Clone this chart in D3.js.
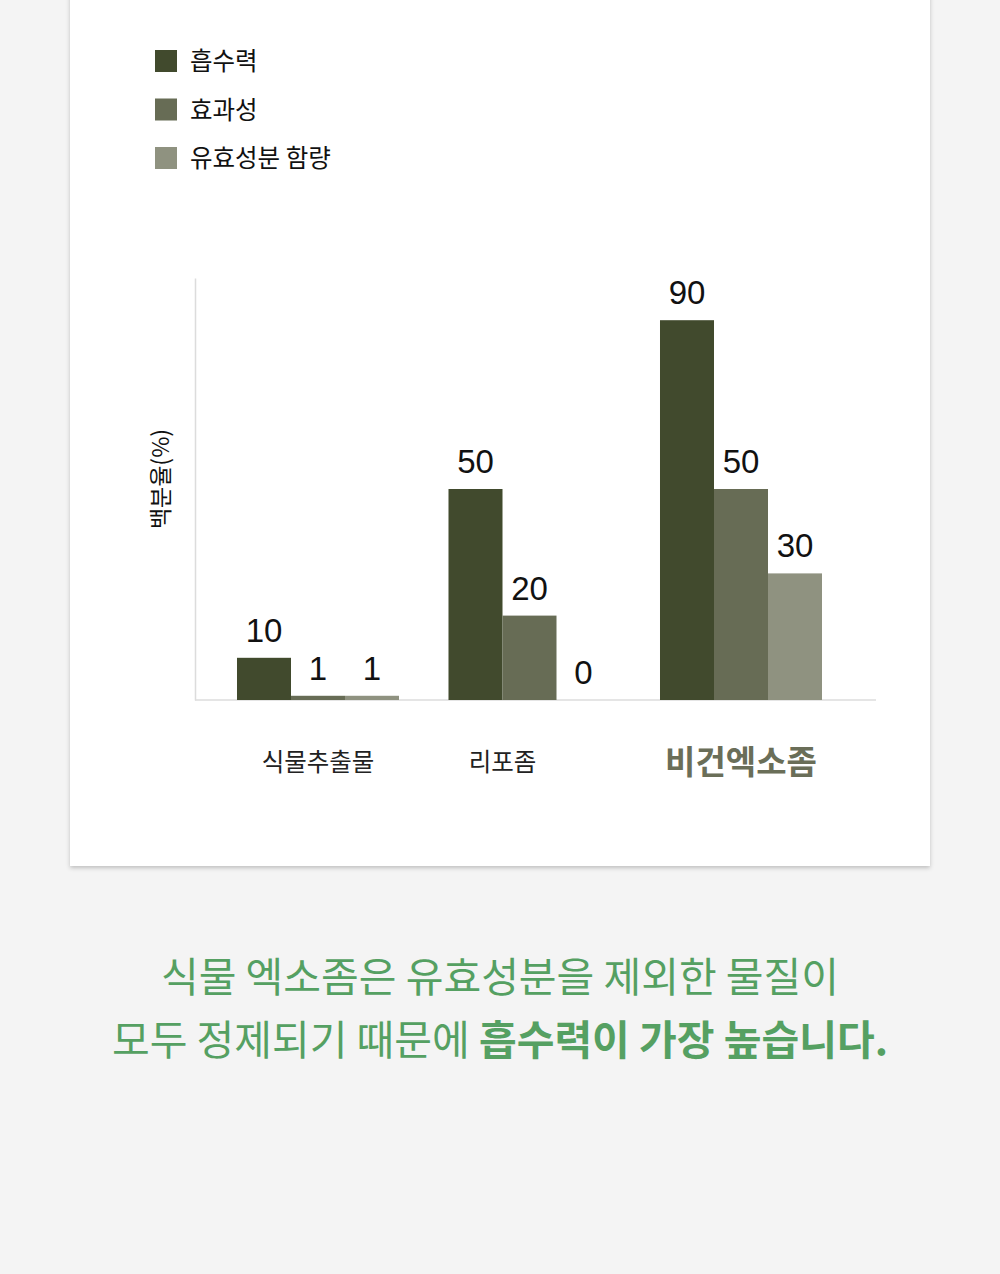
<!DOCTYPE html>
<html>
<head>
<meta charset="utf-8">
<script src="https://cdn.jsdelivr.net/npm/d3@7.9.0/dist/d3.min.js"></script>
<style>
  html, body { margin: 0; padding: 0; background: #f4f4f4; }
  svg { display: block; }
</style>
</head>
<body>
<svg id="chart" width="1000" height="1274"></svg>
<script>
// data
const categories = ['식물추출물', '리포좀', '비건엑소좀'];
const seriesNames = ['흡수력', '효과성', '유효성분 함량'];
const absorption = [10, 50, 90];
const efficacy = [1, 20, 50];
const activeContent = [1, 0, 30];
const yAxisTitle = '백분율(%)';
const captionLine1 = '식물 엑소좀은 유효성분을 제외한 물질이';
const captionLine2 = ['모두 정제되기 때문에 ', '흡수력이 가장 높습니다.'];

const seriesValues = [absorption, efficacy, activeContent];
const colors = ['#414a2d', '#676c55', '#8f9280'];
const korean = "'Noto Sans CJK KR', 'Noto Sans', sans-serif";
const latin = "'Liberation Sans', Arial, sans-serif";

const rows = categories.map((c, i) => ({
  category: c,
  values: seriesNames.map((s, j) => ({ series: s, value: seriesValues[j][i], color: colors[j] }))
}));

const svg = d3.select('#chart');

/*card*/
const defs = svg.append('defs');
const shadow = defs.append('filter').attr('id', 'shadow')
  .attr('x', '-5%').attr('y', '-5%').attr('width', '110%').attr('height', '110%');
shadow.append('feDropShadow')
  .attr('dx', 0).attr('dy', 2).attr('stdDeviation', 2)
  .attr('flood-color', '#000').attr('flood-opacity', 0.22);

svg.append('rect')
  .attr('x', 70).attr('y', -10).attr('width', 860).attr('height', 876)
  .attr('fill', '#fff')
  .attr('filter', 'url(#shadow)');

/*scales*/
const x0 = d3.scaleBand()
  .domain(categories)
  .range([212.25, 846.75])
  .paddingInner(0.234)
  .paddingOuter(0.117);

const x1 = d3.scaleBand()
  .domain(seriesNames)
  .range([0, x0.bandwidth()]);

const y = d3.scaleLinear()
  .domain([0, 100])
  .range([700, 278]);

/*axes*/
const yAxis = svg.append('g')
  .attr('transform', 'translate(195,0)')
  .call(d3.axisLeft(y).ticks(0).tickSizeOuter(0));
yAxis.select('.domain').attr('stroke', '#dcdcdc').attr('stroke-width', 1.5);

svg.append('line')
  .attr('x1', 195).attr('x2', 876)
  .attr('y1', y(0)).attr('y2', y(0))
  .attr('stroke', '#dcdcdc').attr('stroke-width', 1.5);

svg.append('text')
  .attr('transform', `translate(169,${(y(0) + y(100)) / 2 - 10}) rotate(-90)`)
  .attr('text-anchor', 'middle')
  .attr('font-family', korean)
  .attr('font-size', 23)
  .attr('fill', '#111')
  .text(yAxisTitle);

/*bars*/
const groups = svg.selectAll('g.group')
  .data(rows)
  .join('g')
  .attr('class', 'group')
  .attr('transform', d => `translate(${x0(d.category)},0)`);

groups.selectAll('rect')
  .data(d => d.values)
  .join('rect')
  .attr('x', d => x1(d.series))
  .attr('width', x1.bandwidth())
  .attr('y', d => y(d.value))
  .attr('height', d => y(0) - y(d.value))
  .attr('fill', d => d.color);

groups.selectAll('text.value')
  .data(d => d.values)
  .join('text')
  .attr('class', 'value')
  .attr('x', d => x1(d.series) + x1.bandwidth() / 2)
  .attr('y', d => y(d.value) - 16)
  .attr('text-anchor', 'middle')
  .attr('font-family', latin)
  .attr('font-size', 33)
  .attr('fill', '#111')
  .text(d => d.value);

/*category labels, centred under the bars that have a value*/
svg.selectAll('text.cat')
  .data(rows)
  .join('text')
  .attr('class', 'cat')
  .attr('x', d => {
    const shown = d.values.filter(v => v.value > 0);
    const first = x1(shown[0].series);
    const last = x1(shown[shown.length - 1].series) + x1.bandwidth();
    return x0(d.category) + (first + last) / 2;
  })
  .attr('y', (d, i) => i === rows.length - 1 ? 774 : 771)
  .attr('text-anchor', 'middle')
  .attr('font-family', korean)
  .attr('font-size', (d, i) => i === rows.length - 1 ? 33 : 24.5)
  .attr('font-weight', (d, i) => i === rows.length - 1 ? 700 : 400)
  .attr('fill', (d, i) => i === rows.length - 1 ? '#6a6e58' : '#222')
  .text(d => d.category);

/*legend*/
const legend = svg.selectAll('g.legend')
  .data(seriesNames)
  .join('g')
  .attr('class', 'legend')
  .attr('transform', (d, i) => `translate(155,${50 + i * 48.5})`);

legend.append('rect')
  .attr('width', 22).attr('height', 22)
  .attr('fill', (d, i) => colors[i]);

legend.append('text')
  .attr('x', 35).attr('y', 20)
  .attr('font-family', korean)
  .attr('font-size', 24.5)
  .attr('fill', '#111')
  .text(d => d);

/*caption*/
const caption = svg.append('g')
  .attr('font-family', korean)
  .attr('font-size', 41)
  .attr('fill', '#55a062')
  .attr('text-anchor', 'middle');

caption.append('text')
  .attr('x', 500).attr('y', 992)
  .text(captionLine1);

const line2 = caption.append('text')
  .attr('x', 500).attr('y', 1055);
line2.append('tspan').text(captionLine2[0]);
line2.append('tspan').attr('font-weight', 700).text(captionLine2[1]);
</script>
</body>
</html>
